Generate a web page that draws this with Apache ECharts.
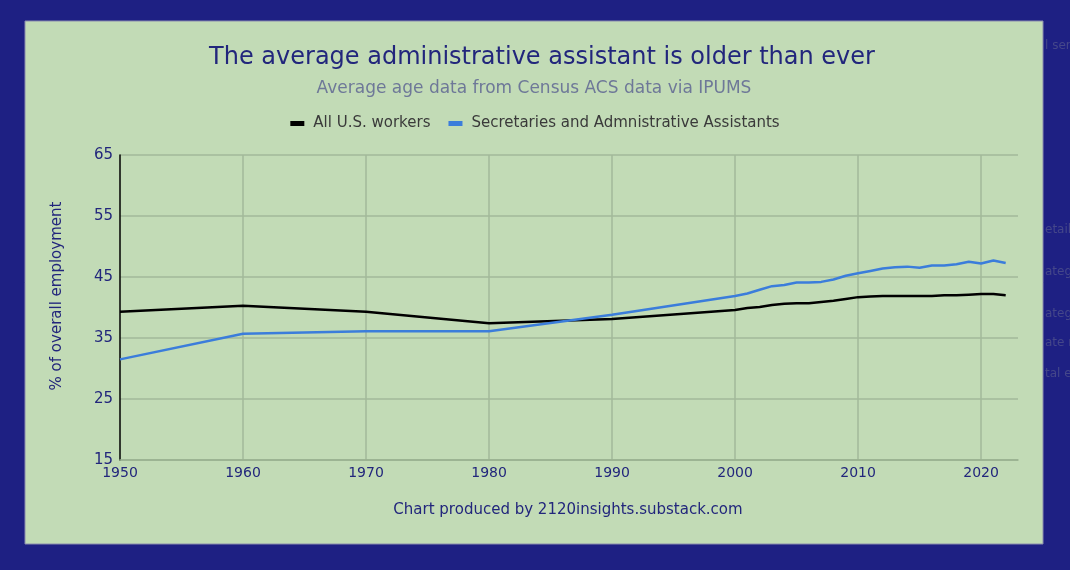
<!DOCTYPE html>
<html>
<head>
<meta charset="utf-8">
<script src="https://cdn.jsdelivr.net/npm/echarts@6/dist/echarts.min.js"></script>
<style>
html,body{margin:0;padding:0;background:#1e2083;}
#main{width:1070px;height:570px;}
</style>
</head>
<body>
<div id="main"></div>
<script>
// years and values
var years = [1950, 1960, 1970, 1980, 1990, 2000, 2001, 2002, 2003, 2004, 2005, 2006, 2007, 2008, 2009, 2010,
  2011, 2012, 2013, 2014, 2015, 2016, 2017, 2018, 2019, 2020, 2021, 2022];
var allWorkers = [39.3, 40.3, 39.3, 37.4, 38.1, 39.6, 39.9, 40.1, 40.4, 40.6, 40.7, 40.7, 40.9, 41.1, 41.4, 41.7,
  41.8, 41.9, 41.9, 41.9, 41.9, 41.9, 42.0, 42.0, 42.1, 42.2, 42.2, 42.0];
var secretaries = [31.5, 35.7, 36.1, 36.1, 38.8, 41.9, 42.3, 42.9, 43.5, 43.7, 44.1, 44.1, 44.2, 44.6, 45.2, 45.6,
  46.0, 46.4, 46.6, 46.7, 46.5, 46.9, 46.9, 47.1, 47.5, 47.2, 47.7, 47.3];
var seriesNames = ['All U.S. workers', 'Secretaries and Admnistrative Assistants'];

function pairs(vals){
  return years.map(function(y, i){ return [y, vals[i]]; });
}

var myChart = echarts.init(document.getElementById('main'));
var navy = '#22267c';
var font = '"DejaVu Sans", Verdana, sans-serif';
var faint = '#45478a';

option = {
  backgroundColor: '#1e2083',
  textStyle: {fontFamily: font},
  animation: false,
  graphic: [
    // bits of spreadsheet text peeking out at the right
    {type: 'text', left: 1045, top: 40, z: 0, style: {text: 'l serie', fill: faint, font: '12px ' + font}},
    {type: 'text', left: 1045, top: 224, z: 0, style: {text: 'etailed', fill: faint, font: '12px ' + font}},
    {type: 'text', left: 1045, top: 266, z: 0, style: {text: 'atego', fill: faint, font: '12px ' + font}},
    {type: 'text', left: 1045, top: 308, z: 0, style: {text: 'atego', fill: faint, font: '12px ' + font}},
    {type: 'text', left: 1045, top: 337, z: 0, style: {text: 'ate ro', fill: faint, font: '12px ' + font}},
    {type: 'text', left: 1045, top: 368, z: 0, style: {text: 'tal em', fill: faint, font: '12px ' + font}},
    {type: 'rect', z: -1, shape: {x: 25, y: 21, width: 1018, height: 523},
      style: {fill: '#c2dbb6', stroke: '#8a8cae', lineWidth: 1}},
    {type: 'text', z: 5, x: 542, y: 58, style: {text: 'The average administrative assistant is older than ever',
      fill: navy, font: '24px ' + font, textAlign: 'center', textVerticalAlign: 'middle'}},
    {type: 'text', z: 5, x: 534, y: 89, style: {text: 'Average age data from Census ACS data via IPUMS',
      fill: '#6e7898', font: '17px ' + font, textAlign: 'center', textVerticalAlign: 'middle'}},
    {type: 'text', z: 5, x: 568, y: 510, style: {text: 'Chart produced by 2120insights.substack.com',
      fill: navy, font: '15px ' + font, textAlign: 'center', textVerticalAlign: 'middle'}},
    {type: 'text', z: 5, x: 57, y: 296, rotation: Math.PI / 2, style: {text: '% of overall employment',
      fill: navy, font: '15px ' + font, textAlign: 'center', textVerticalAlign: 'middle'}}
  ],
  legend: {
    top: 111,
    left: 'center',
    icon: 'rect',
    itemWidth: 14,
    itemHeight: 5,
    itemGap: 18,
    textStyle: {color: '#3a3a3a', fontSize: 15, fontFamily: font, padding: [0, 0, 0, 4]},
    data: seriesNames
  },
  grid: {left: 120, right: 52, top: 155, bottom: 110},
  xAxis: {
    type: 'value',
    min: 1950,
    max: 2023,
    interval: 10,
    axisLine: {lineStyle: {color: '#98b08e', width: 1.5}},
    axisTick: {show: false},
    axisLabel: {color: navy, fontSize: 14, margin: 6, showMaxLabel: false, fontFamily: font,
      formatter: function(v){ return String(v); }},
    splitLine: {show: true, showMinLine: false, showMaxLine: false, lineStyle: {color: '#a2b99a', width: 1.5}}
  },
  yAxis: {
    type: 'value',
    min: 15,
    max: 65,
    interval: 10,
    axisLine: {show: true, lineStyle: {color: '#000', width: 1.5}},
    axisTick: {show: false},
    axisLabel: {color: navy, fontSize: 15, margin: 7, fontFamily: font},
    splitLine: {lineStyle: {color: '#a2b99a', width: 1.5}}
  },
  series: [
    {
      name: seriesNames[0],
      type: 'line',
      data: pairs(allWorkers),
      showSymbol: false,
      symbol: 'none',
      color: '#000000',
      lineStyle: {width: 2.5}
    },
    {
      name: seriesNames[1],
      type: 'line',
      data: pairs(secretaries),
      showSymbol: false,
      symbol: 'none',
      color: '#3b7ddb',
      lineStyle: {width: 2.5}
    }
  ]
};

myChart.setOption(option);
</script>
</body>
</html>
